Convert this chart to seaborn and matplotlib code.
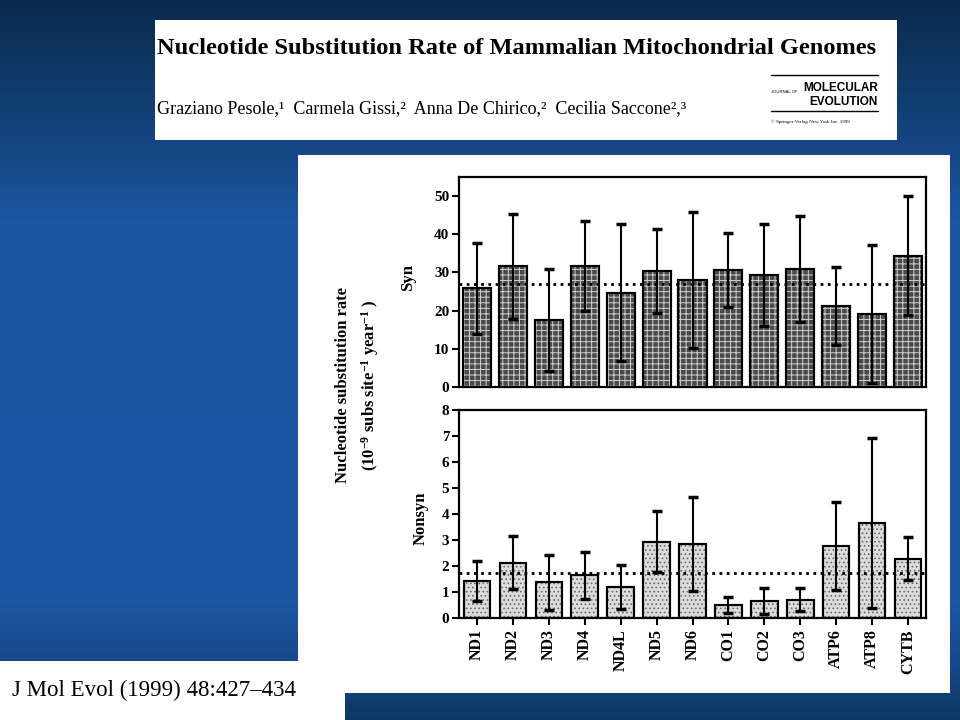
import numpy as np
import matplotlib
matplotlib.use("Agg")
import matplotlib.pyplot as plt
import matplotlib.colors as mcolors
import seaborn as sns
from matplotlib.patches import Rectangle

genes = ["ND1", "ND2", "ND3", "ND4", "ND4L", "ND5", "ND6",
         "CO1", "CO2", "CO3", "ATP6", "ATP8", "CYTB"]
syn_rate = [25.8, 31.6, 17.5, 31.6, 24.7, 30.3, 28.0, 30.6, 29.3, 30.9, 21.2, 19.1, 34.4]
syn_sd = [12.0, 13.7, 13.4, 11.8, 17.9, 11.0, 17.8, 9.7, 13.3, 13.9, 10.3, 18.0, 15.6]
syn_mean = 27.1
nonsyn_rate = [1.42, 2.13, 1.37, 1.65, 1.19, 2.94, 2.84, 0.50, 0.67, 0.70, 2.78, 3.67, 2.28]
nonsyn_sd = [0.78, 1.03, 1.07, 0.90, 0.86, 1.17, 1.82, 0.32, 0.50, 0.44, 1.70, 3.27, 0.82]
nonsyn_mean = 1.73

sns.set_theme(style="white")
plt.rcParams["font.family"] = ["Liberation Serif", "DejaVu Serif"]
plt.rcParams.update({
    "text.color": "black",
    "mathtext.fontset": "custom",
    "mathtext.rm": "Liberation Serif:bold",
    "mathtext.bf": "Liberation Serif:bold",
    "mathtext.it": "Liberation Serif:bold:italic",
    "hatch.linewidth": 0.7,
})

fig = plt.figure(figsize=(9.6, 7.2), dpi=100)

# slide background, in pixel coordinates
bg = fig.add_axes([0, 0, 1, 1], zorder=-10)
stop_y = [0, 80, 220, 600, 665, 720]
stop_c = ["#0a2a4c", "#0f3a69", "#1c55a0", "#1d56a2", "#17488a", "#0b3761"]
rgb = np.array([mcolors.to_rgb(c) for c in stop_c])
yy = np.arange(720)
grad = np.stack([np.interp(yy, stop_y, rgb[:, k]) for k in range(3)], axis=1)
bg.imshow(grad[:, None, :], aspect="auto", extent=[0, 960, 720, 0])
bg.set_xlim(0, 960)
bg.set_ylim(720, 0)
bg.axis("off")
for xy, w, h in [((155, 20), 742, 120), ((298, 155), 652, 538), ((0, 661), 345, 59)]:
    bg.add_patch(Rectangle(xy, w, h, facecolor="white", edgecolor="none"))

# header
bg.text(157, 49, "Nucleotide Substitution Rate of Mammalian Mitochondrial Genomes",
        fontsize=17.6, fontweight="bold", va="center", ha="left")
bg.text(157, 109, "Graziano Pesole,¹  Carmela Gissi,²  Anna De Chirico,²  Cecilia Saccone²,³",
        fontsize=13, va="center", ha="left")
bg.plot([771, 878], [75, 75], color="black", lw=1)
bg.plot([771, 878], [111, 111], color="black", lw=1)
bg.text(771, 92, "JOURNAL OF", fontsize=3.0, family=["Liberation Sans", "DejaVu Sans"],
        va="center", ha="left")
bg.text(878, 88, "MOLECULAR", fontsize=8.5, fontweight="bold",
        family=["Liberation Sans", "DejaVu Sans"], va="center", ha="right")
bg.text(878, 102, "EVOLUTION", fontsize=8.5, fontweight="bold",
        family=["Liberation Sans", "DejaVu Sans"], va="center", ha="right")
bg.text(771, 122, "© Springer-Verlag New York Inc. 1999", fontsize=3.6, va="center", ha="left")

bg.text(12, 690, "J Mol Evol (1999) 48:427\u2013434", fontsize=16.5, va="center", ha="left")

bg.text(358, 385,
        "Nucleotide substitution rate\n"
        "(10$^{-9}$ subs site$^{-1}$ year$^{-1}$ )",
        rotation=90, ha="center", va="center", multialignment="center",
        fontsize=12, fontweight="bold", linespacing=1.5)

ax1 = fig.add_axes([459 / 960, 1 - 387 / 720, 467 / 960, 210 / 720])
ax2 = fig.add_axes([459 / 960, 1 - 618 / 720, 467 / 960, 208 / 720])

panels = [
    (ax1, syn_rate, syn_sd, syn_mean, "#4a4a4a", "#cfcfcf", "+++", 0.78, (0, 55), range(0, 51, 10)),
    (ax2, nonsyn_rate, nonsyn_sd, nonsyn_mean, "#dcdcdc", "#6a6a6a", "....", 0.74, (0, 8), range(0, 9)),
]

for ax, rate, sd, mean, face, hcol, hatch, width, ylim, yticks in panels:
    ax.set_facecolor("white")
    sns.barplot(x=genes, y=rate, ax=ax, color=face, saturation=1, width=width,
                edgecolor="black", linewidth=1.5, errorbar=None, zorder=2)
    for p in list(ax.patches):
        ax.add_patch(Rectangle(p.get_xy(), p.get_width(), p.get_height(),
                               facecolor="none", edgecolor=hcol, lw=0, hatch=hatch, zorder=2.1))
        ax.add_patch(Rectangle(p.get_xy(), p.get_width(), p.get_height(),
                               facecolor="none", edgecolor="black", lw=1.5, zorder=2.2))
    ax.errorbar(np.arange(len(genes)), rate, yerr=sd, fmt="none", ecolor="black",
                elinewidth=1.5, capsize=3.5, capthick=2.5, zorder=4)
    ax.axhline(mean, ls=(0, (1, 1.6)), lw=2, color="black", zorder=5)
    ax.set_xlim(-0.5, len(genes) - 0.5)
    ax.set_ylim(*ylim)
    ax.set_yticks(list(yticks))
    ax.tick_params(axis="y", left=True, direction="out", length=5, width=1.5,
                   labelsize=11, pad=2, colors="black")
    for lab in ax.get_yticklabels():
        lab.set_fontweight("bold")
    for s in ax.spines.values():
        s.set_visible(True)
        s.set_color("black")
        s.set_linewidth(1.6)
    ax.set_xlabel("")
    ax.set_ylabel("")

ax1.tick_params(axis="x", bottom=False, labelbottom=False)
ax2.tick_params(axis="x", bottom=True, direction="out", length=5, width=1.5,
                labelsize=11.5, pad=3, colors="black")
ax2.set_xticks(range(len(genes)))
ax2.set_xticklabels(genes, rotation=90, fontweight="bold")

ax1.text(-0.109, 0.52, "Syn", transform=ax1.transAxes, rotation=90,
         ha="center", va="center", fontsize=12, fontweight="bold")
ax2.text(-0.083, 0.48, "Nonsyn", transform=ax2.transAxes, rotation=90,
         ha="center", va="center", fontsize=12, fontweight="bold")

fig.savefig("out.png", dpi=100)
